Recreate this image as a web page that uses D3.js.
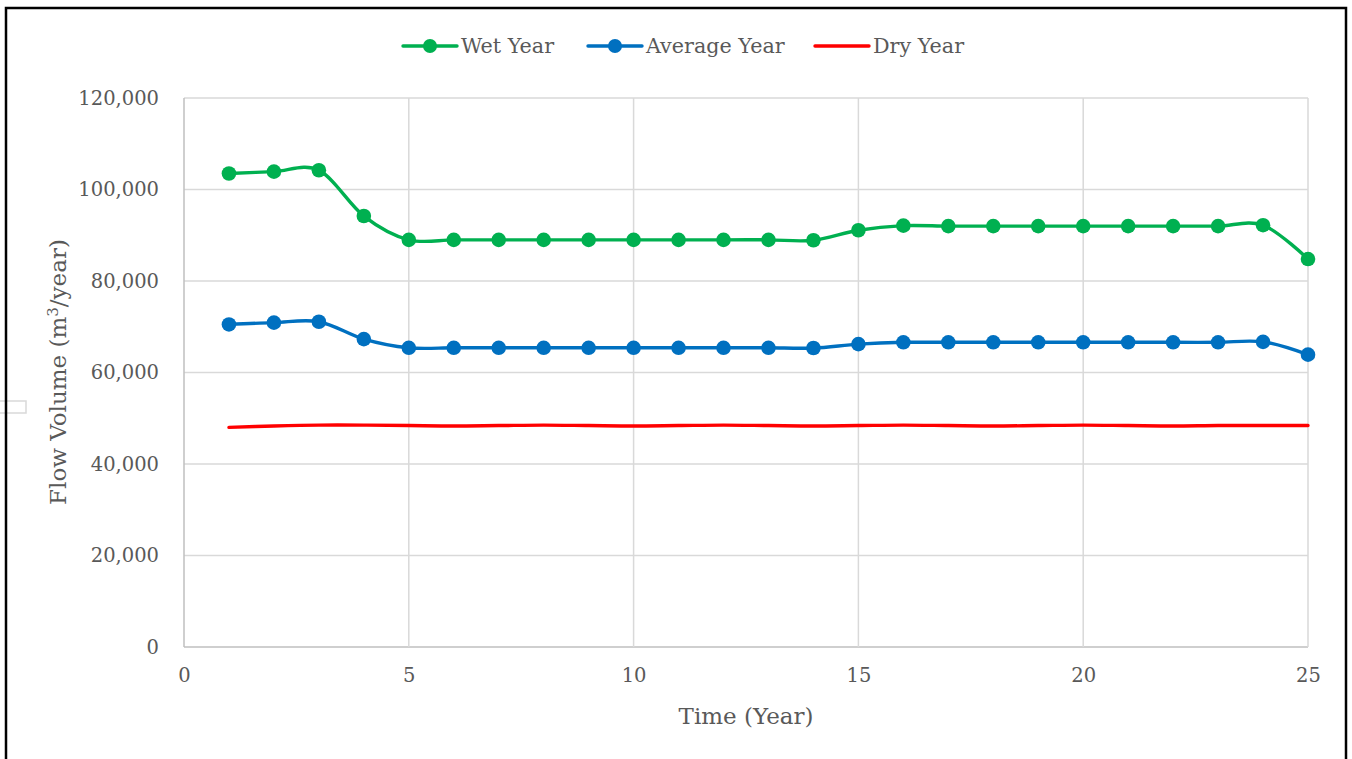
<!DOCTYPE html>
<html>
<head>
<meta charset="utf-8">
<script src="https://cdn.jsdelivr.net/npm/d3@7"></script>
<style>
    body { margin: 0; background: #ffffff; }
    svg text { font-family: 'DejaVu Serif', 'Liberation Serif', serif; fill: #595959; }
</style>
</head>
<body>
<div id="chart"></div>
<script>
// values
let years = [1, 2, 3, 4, 5, 6, 7, 8, 9, 10, 11, 12, 13, 14, 15, 16, 17, 18, 19, 20, 21, 22, 23, 24, 25];
let wet_year = [103500, 103900, 104200, 94200, 89000, 89000, 89000, 89000, 89000, 89000, 89000, 89000, 89000, 88900,
    91100, 92100, 92000, 92000, 92000, 92000, 92000, 92000, 92000, 92200, 84800];
let average_year = [70500, 70900, 71100, 67300, 65400, 65400, 65400, 65400, 65400, 65400, 65400, 65400, 65400, 65350,
    66200, 66600, 66600, 66600, 66600, 66600, 66600, 66600, 66600, 66700, 63900];
let dry_year = [48000, 48300, 48500, 48500, 48400, 48300, 48400, 48500, 48400, 48300, 48400, 48500, 48400, 48300,
    48400, 48500, 48400, 48300, 48400, 48500, 48400, 48300, 48400, 48400, 48400];

let x_ticks = [0, 5, 10, 15, 20, 25];
let y_ticks = [0, 20000, 40000, 60000, 80000, 100000, 120000];

let series_names = ['Wet Year', 'Average Year', 'Dry Year'];
let series_colors = ['#00B050', '#0070C0', '#FF0000'];
let series_markers = [true, true, false];

let width = 1352, height = 759;
let margin = {top: 98, right: 44, bottom: 112, left: 184};

let svg = d3.select('#chart').append('svg')
    .attr('width', width)
    .attr('height', height);

// little stray box at the left edge of the original
svg.append('rect')
    .attr('x', -1).attr('y', 401)
    .attr('width', 27).attr('height', 12)
    .attr('fill', 'none').attr('stroke', '#d9d9d9').attr('stroke-width', 1.5);

// outer frame
svg.append('rect')
    .attr('x', 6).attr('y', 8)
    .attr('width', 1340).attr('height', 760)
    .attr('fill', 'none').attr('stroke', '#000000').attr('stroke-width', 2.5);

let x = d3.scaleLinear().domain([0, 25]).range([margin.left, width - margin.right]);
let y = d3.scaleLinear().domain([0, 120000]).range([height - margin.bottom, margin.top]);

//////////////////// grid ////////////////////
svg.append('g')
    .selectAll('line')
    .data(y_ticks)
    .join('line')
    .attr('x1', x(0)).attr('x2', x(25))
    .attr('y1', d => y(d)).attr('y2', d => y(d))
    .attr('stroke', d => d === 0 ? '#bfbfbf' : '#d9d9d9')
    .attr('stroke-width', 1.5);

svg.append('g')
    .selectAll('line')
    .data(x_ticks)
    .join('line')
    .attr('x1', d => x(d)).attr('x2', d => x(d))
    .attr('y1', y(0)).attr('y2', y(120000))
    .attr('stroke', d => d === 0 ? '#bfbfbf' : '#d9d9d9')
    .attr('stroke-width', 1.5);

//////////////////// axes ////////////////////
let y_axis = svg.append('g')
    .attr('transform', 'translate(' + (x(0) - 22) + ',0)')
    .call(d3.axisLeft(y).tickValues(y_ticks).tickSize(0).tickFormat(d3.format(',')));
y_axis.select('.domain').remove();
y_axis.selectAll('text').attr('font-size', '19.5px').attr('fill', '#595959')
    .style('font-family', "'DejaVu Serif', serif");

let x_axis = svg.append('g')
    .attr('transform', 'translate(0,' + (y(0) + 18) + ')')
    .call(d3.axisBottom(x).tickValues(x_ticks).tickSize(0));
x_axis.select('.domain').remove();
x_axis.selectAll('text').attr('font-size', '19.5px').attr('fill', '#595959')
    .style('font-family', "'DejaVu Serif', serif");

svg.append('text')
    .attr('x', 746).attr('y', 724)
    .attr('text-anchor', 'middle')
    .attr('font-size', '23px')
    .text('Time (Year)');

let y_title = svg.append('text')
    .attr('text-anchor', 'middle')
    .attr('font-size', '23px')
    .attr('transform', 'translate(66,372) rotate(-90)');
y_title.append('tspan').text('Flow Volume (m');
y_title.append('tspan').attr('dy', -8).attr('font-size', '15px').text('3');
y_title.append('tspan').attr('dy', 8).text('/year)');

//////////////////// series ////////////////////
let all_series = [wet_year, average_year, dry_year];

let line = d3.line()
    .x((d, i) => x(years[i]))
    .y(d => y(d))
    .curve(d3.curveCardinal.tension(0));

all_series.forEach(function (values, index) {
    svg.append('path')
        .datum(values)
        .attr('fill', 'none')
        .attr('stroke', series_colors[index])
        .attr('stroke-width', 3.4)
        .attr('stroke-linecap', 'round')
        .attr('d', line);

    if (series_markers[index]) {
        svg.append('g')
            .selectAll('circle')
            .data(values)
            .join('circle')
            .attr('cx', (d, i) => x(years[i]))
            .attr('cy', d => y(d))
            .attr('r', 7.3)
            .attr('fill', series_colors[index]);
    }
});

//////////////////// legend ////////////////////
let legend_x = [403, 588, 815];

let legend = svg.append('g');
series_names.forEach(function (name, index) {
    let lx = legend_x[index];
    legend.append('line')
        .attr('x1', lx).attr('x2', lx + 54)
        .attr('y1', 46).attr('y2', 46)
        .attr('stroke', series_colors[index])
        .attr('stroke-width', 3.4)
        .attr('stroke-linecap', 'round');
    if (series_markers[index]) {
        legend.append('circle')
            .attr('cx', lx + 27).attr('cy', 46).attr('r', 7)
            .attr('fill', series_colors[index]);
    }
    legend.append('text')
        .attr('x', lx + 58).attr('y', 46)
        .attr('dy', '0.35em')
        .attr('font-size', '20.7px')
        .text(name);
});
</script>
</body>
</html>
